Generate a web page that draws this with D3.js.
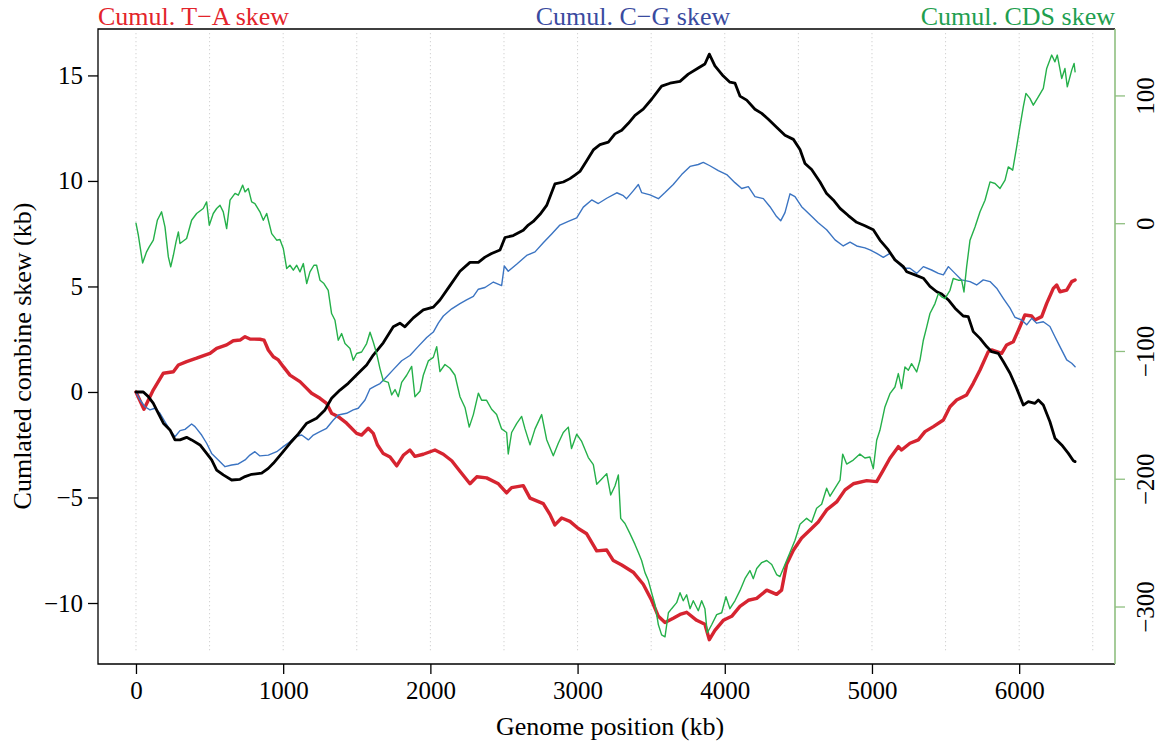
<!DOCTYPE html>
<html>
<head>
<meta charset="utf-8">
<script src="https://cdn.jsdelivr.net/npm/d3@7"></script>
<style>
  html, body { margin: 0; padding: 0; background: #ffffff; }
  svg { display: block; font-family: "Liberation Serif", "Times New Roman", serif; }
</style>
</head>
<body>
<svg id="chart" width="1161" height="742"></svg>
<script>
// Cumulative T−A skew (kb) along the genome (kb)
const taPos = [0,54,118,186,254,288,344,412,469,503,548,616,661,707,741,774,842,870,899,933,967,1001,1046,1114,1160,1193,1250,1295,1329,1374,1431,1499,1533,1578,1612,1640,1680,1726,1771,1816,1861,1895,1952,2031,2088,2145,2201,2269,2315,2382,2462,2518,2552,2631,2677,2767,2812,2846,2892,2948,3005,3062,3130,3198,3243,3300,3378,3446,3503,3549,3594,3650,3696,3741,3809,3865,3895,3933,3990,4047,4103,4160,4217,4285,4352,4386,4420,4466,4522,4579,4635,4692,4760,4817,4873,4964,5032,5077,5122,5179,5201,5258,5315,5360,5417,5485,5530,5575,5643,5688,5734,5790,5813,5881,5915,5960,6005,6039,6085,6107,6153,6187,6232,6255,6277,6323,6357,6380];
const taSkew = [0,-0.82,0.1,0.89,0.96,1.28,1.44,1.6,1.75,1.83,2.07,2.23,2.43,2.46,2.62,2.51,2.5,2.46,1.99,1.67,1.52,1.2,0.8,0.49,0.17,-0.06,-0.3,-0.54,-1.01,-1.17,-1.48,-1.96,-2.04,-1.72,-1.96,-2.5,-2.92,-3.08,-3.5,-3.0,-2.75,-3.05,-2.95,-2.75,-2.95,-3.26,-3.76,-4.35,-4.02,-4.07,-4.35,-4.78,-4.53,-4.44,-5.03,-5.29,-5.8,-6.3,-5.97,-6.13,-6.47,-6.72,-7.53,-7.49,-7.99,-8.2,-8.54,-9.11,-9.87,-10.63,-10.92,-10.72,-10.54,-10.44,-10.82,-11.01,-11.74,-11.3,-10.82,-10.63,-10.16,-9.87,-9.78,-9.39,-9.59,-9.39,-8.16,-7.5,-6.92,-6.54,-6.16,-5.59,-5.21,-4.64,-4.35,-4.2,-4.25,-3.7,-3.14,-2.59,-2.75,-2.43,-2.27,-1.88,-1.64,-1.33,-0.7,-0.38,-0.14,0.41,1.04,1.91,1.99,1.83,2.23,2.38,3.09,3.65,3.6,3.41,3.57,4.2,4.91,5.07,4.75,4.83,5.23,5.31];

// Cumulative C−G skew (kb)
const cgPos = [0,27,61,95,129,163,197,231,265,299,333,378,401,446,480,514,559,605,650,695,741,774,808,842,899,956,1001,1046,1080,1126,1171,1205,1250,1295,1341,1374,1431,1476,1510,1556,1590,1624,1658,1692,1748,1805,1861,1918,1975,2020,2054,2088,2145,2201,2246,2292,2326,2371,2428,2484,2502,2529,2586,2654,2711,2767,2824,2880,2937,2994,3039,3096,3141,3198,3266,3311,3333,3378,3413,3435,3492,3549,3594,3650,3707,3764,3820,3854,3899,3956,4013,4069,4115,4160,4205,4262,4307,4352,4380,4409,4443,4477,4522,4579,4635,4692,4749,4805,4851,4896,4952,4986,5032,5077,5122,5168,5213,5258,5304,5349,5405,5451,5485,5519,5564,5609,5666,5711,5756,5802,5847,5892,5938,5971,6017,6051,6085,6119,6164,6209,6243,6277,6323,6357,6380];
const cgSkew = [0,-0.38,-0.7,-0.85,-0.77,-1.01,-1.41,-1.8,-2.12,-1.83,-1.77,-1.52,-1.64,-2.04,-2.43,-2.91,-3.22,-3.54,-3.46,-3.41,-3.22,-2.99,-2.83,-3.03,-2.99,-2.83,-2.59,-2.36,-2.12,-2.04,-2.27,-2.04,-1.88,-1.72,-1.33,-1.09,-1.01,-0.85,-0.77,-0.38,0.15,0.28,0.4,0.64,1.06,1.48,1.73,2.16,2.58,2.84,3.26,3.6,3.94,4.19,4.36,4.53,4.87,4.95,5.21,5.04,5.97,5.72,6.05,6.47,6.64,7.07,7.49,7.91,8.08,8.25,8.76,9.1,8.93,9.18,9.44,9.3,9.16,9.53,9.83,9.45,9.34,9.16,9.45,9.83,10.3,10.69,10.78,10.88,10.72,10.49,10.3,9.92,9.64,9.73,9.26,9.16,8.78,8.31,8.11,8.5,9.39,9.26,8.78,8.4,8.02,7.69,7.21,6.92,7.1,6.92,6.83,6.73,6.57,6.38,6.57,6.18,5.86,5.86,5.62,5.94,5.78,5.62,5.55,5.94,5.62,5.31,5.23,5.07,5.31,5.23,4.92,4.44,3.97,3.54,3.41,3.18,3.49,3.26,3.33,3.1,2.62,2.15,1.52,1.36,1.2];

// Cumulative combined skew (kb)
const combPos = [0,50,84,118,152,186,231,265,299,344,378,435,480,514,548,593,650,707,741,786,854,899,933,990,1046,1103,1160,1227,1284,1329,1386,1442,1510,1567,1612,1680,1748,1793,1827,1884,1952,2020,2065,2133,2201,2269,2326,2371,2416,2473,2507,2563,2631,2665,2699,2745,2790,2846,2903,2948,2982,3016,3062,3107,3152,3209,3254,3300,3345,3390,3446,3503,3571,3628,3696,3752,3820,3865,3895,3933,3990,4035,4069,4103,4149,4205,4251,4296,4352,4409,4466,4511,4545,4590,4647,4692,4737,4783,4839,4896,4952,5009,5054,5111,5156,5213,5236,5292,5349,5394,5440,5474,5519,5564,5620,5654,5688,5734,5779,5813,5858,5892,5938,5983,6028,6062,6107,6130,6164,6209,6243,6289,6334,6368,6380];
const combSkew = [0,0,-0.22,-0.54,-1.01,-1.48,-1.8,-2.27,-2.27,-2.15,-2.27,-2.51,-2.91,-3.22,-3.7,-3.93,-4.17,-4.14,-4.01,-3.9,-3.85,-3.62,-3.38,-2.91,-2.43,-1.99,-1.48,-1.25,-0.85,-0.3,0.09,0.41,0.89,1.28,1.75,2.33,3.09,3.26,3.09,3.51,3.89,4.02,4.36,5.04,5.72,6.14,6.14,6.39,6.56,6.73,7.32,7.41,7.66,7.91,8.08,8.42,8.84,9.86,9.95,10.11,10.28,10.45,10.96,11.47,11.72,11.84,12.23,12.4,12.73,13.11,13.4,13.87,14.49,14.63,14.72,15.06,15.35,15.54,16.01,15.45,14.97,14.68,14.64,14.02,13.83,13.4,13.2,12.92,12.54,12.16,11.97,11.49,10.83,10.54,9.95,9.4,9.1,8.7,8.36,8.04,7.88,7.69,7.2,6.73,6.26,5.94,5.7,5.55,5.39,5.0,4.75,4.64,4.36,3.97,3.6,3.57,2.86,2.54,2.15,1.91,1.83,1.44,0.89,0.17,-0.62,-0.46,-0.54,-0.38,-0.62,-1.41,-2.19,-2.51,-2.91,-3.26,-3.3];

// Cumulative CDS skew (gene count, right axis)
const cdsPos = [0,16,45,72,90,118,145,174,197,220,236,254,272,288,299,344,378,412,457,480,498,525,548,571,593,616,639,673,695,725,741,763,786,808,842,865,888,922,956,978,1001,1024,1046,1069,1092,1114,1137,1160,1182,1209,1227,1250,1277,1306,1329,1352,1374,1397,1420,1454,1476,1499,1533,1567,1590,1612,1635,1658,1680,1714,1737,1760,1782,1805,1839,1873,1895,1929,1952,1986,2020,2043,2065,2099,2133,2167,2201,2235,2264,2292,2326,2348,2382,2416,2450,2484,2518,2529,2552,2586,2620,2643,2677,2711,2756,2790,2835,2869,2903,2937,2959,2994,3028,3073,3107,3130,3164,3198,3225,3254,3277,3293,3322,3356,3390,3413,3435,3458,3481,3503,3526,3549,3571,3594,3617,3639,3673,3696,3718,3741,3764,3786,3820,3843,3865,3881,3911,3945,3979,4008,4035,4069,4103,4137,4171,4194,4217,4251,4285,4319,4352,4375,4409,4443,4477,4511,4556,4590,4624,4658,4692,4715,4749,4783,4801,4828,4873,4918,4952,4986,5009,5032,5054,5088,5122,5156,5179,5201,5224,5247,5269,5304,5326,5349,5372,5394,5428,5451,5474,5496,5530,5552,5586,5609,5625,5643,5666,5700,5734,5768,5802,5836,5870,5904,5926,5956,5983,6005,6028,6046,6073,6096,6130,6164,6187,6221,6243,6259,6289,6311,6327,6357,6373,6380];
const cdsSkew = [0,-9.4,-31.1,-22.4,-18.5,-13.3,2.3,8.9,-2.9,-26.4,-34.2,-25.1,-14.6,-6.8,-15.9,-12,2.3,7.6,11.5,16.7,-1.6,7.6,11.5,14.1,8.9,-4.2,18,23.3,21.9,29.8,24.5,27.2,16.7,15.4,8.9,2.3,7.6,-8.1,-13.3,-12.8,-19.8,-35.5,-32.9,-36.8,-32.9,-38.1,-31.6,-47.2,-38.1,-32.9,-32.9,-44.6,-47.2,-52.5,-70.7,-76,-91.6,-86.4,-94.2,-98.1,-107.3,-102,-100.8,-94.2,-85.3,-93,-102,-114,-123.2,-124.6,-134.4,-130.2,-135.8,-124.6,-119,-112.1,-135.8,-131.6,-119,-107.8,-105,-96.6,-116.2,-110.6,-113.5,-119,-135.8,-144.2,-159.6,-149.8,-133,-138.6,-138.6,-145.6,-149.8,-161,-163.8,-180.6,-163.8,-156.8,-151.2,-161,-173.5,-161,-149.8,-169.4,-182,-172.2,-163.8,-159.6,-176.4,-165.2,-170.8,-183.4,-189,-204.3,-200.2,-196,-212.7,-205.7,-197,-231,-235,-243,-251.4,-257.7,-264,-273.5,-279.7,-289.2,-298.6,-314.3,-322.2,-323.7,-304.9,-301.7,-297,-289.2,-295.5,-290.8,-301.7,-295.5,-303.3,-295.5,-301.7,-320.6,-314.3,-306.4,-304.9,-292.3,-301.7,-295.5,-287.6,-278.2,-271.9,-278.2,-270.3,-265.6,-264,-267.1,-275,-276.6,-267.1,-257.7,-248.2,-235.7,-231,-234.1,-223.1,-220,-207.4,-213.7,-207.4,-201.1,-180.7,-188.5,-185.4,-180.7,-183.8,-183,-192.1,-169.9,-162.1,-143.8,-133.4,-128.2,-117.7,-129.4,-112.5,-115.1,-109.9,-116.4,-107.3,-91.6,-81.2,-70.7,-62.9,-55.1,-57.7,-59,-52.5,-43.3,-44.6,-44.6,-53.8,-34.2,-13.3,-2.9,8.9,18,32.3,31.1,27.2,33.7,44.1,41.5,59.7,75.4,91.1,101.6,97.7,92.4,98.9,105.5,121.1,131.6,126.3,131.6,113.3,121.1,106.7,119.8,125.1,118.5];

// Axis ticks and reference lines
const xTicks = [0, 1000, 2000, 3000, 4000, 5000, 6000];
const xGrid = [0, 500, 1000, 1500, 2000, 2500, 3000, 3500, 4000, 4500, 5000, 5500, 6000, 6500];
const leftTicks = [-10, -5, 0, 5, 10, 15];
const rightTicks = [-300, -200, -100, 0, 100];

const W = 1161, H = 742;
const plot = { left: 98, right: 1115, top: 29, bottom: 664 };
const FONT = '"Liberation Serif", "Times New Roman", serif';

const svg = d3.select("#chart");

const x = d3.scaleLinear().domain([-258, 6651]).range([plot.left, plot.right]);
const yL = d3.scaleLinear().domain([-12.89, 17.2]).range([plot.bottom, plot.top]);
const yR = d3.scaleLinear().domain([-345, 152]).range([plot.bottom, plot.top]);

// dotted vertical guides every 500 kb
svg.append("g")
  .selectAll("line")
  .data(xGrid)
  .join("line")
  .attr("x1", d => x(d)).attr("x2", d => x(d))
  .attr("y1", yL(17.0)).attr("y2", yL(-12.3))
  .attr("stroke", "#c4c4c4")
  .attr("stroke-width", 1)
  .attr("stroke-dasharray", "1,3");

const zip = (p, v) => p.map((d, i) => [d, v[i]]);

const lineL = d3.line().x(d => x(d[0])).y(d => yL(d[1]));
const lineR = d3.line().x(d => x(d[0])).y(d => yR(d[1]));

const series = [
  { pts: zip(taPos, taSkew), gen: lineL, color: "#d62430", width: 3.4 },
  { pts: zip(cgPos, cgSkew), gen: lineL, color: "#3b74c2", width: 1.4 },
  { pts: zip(combPos, combSkew), gen: lineL, color: "#000000", width: 2.8 },
  { pts: zip(cdsPos, cdsSkew), gen: lineR, color: "#25b04a", width: 1.4 }
];

svg.append("g")
  .selectAll("path")
  .data(series)
  .join("path")
  .attr("d", s => s.gen(s.pts))
  .attr("fill", "none")
  .attr("stroke", s => s.color)
  .attr("stroke-width", s => s.width)
  .attr("stroke-linejoin", "round")
  .attr("stroke-linecap", "round");

// frame: black on three sides, green on the right (secondary axis)
svg.append("path")
  .attr("d", `M${plot.right},${plot.top}H${plot.left}V${plot.bottom}H${plot.right}`)
  .attr("fill", "none").attr("stroke", "#000").attr("stroke-width", 1.3);
svg.append("line")
  .attr("x1", plot.right).attr("x2", plot.right)
  .attr("y1", plot.top).attr("y2", plot.bottom)
  .attr("stroke", "#8fbf80").attr("stroke-width", 1.6);

// left axis
const axL = svg.append("g")
  .attr("transform", `translate(${plot.left},0)`)
  .call(d3.axisLeft(yL).tickValues(leftTicks).tickSize(10).tickPadding(5));
axL.select(".domain").remove();
axL.selectAll(".tick line").attr("stroke", "#000").attr("stroke-width", 1.3);
axL.selectAll(".tick text").attr("font-size", 25).attr("font-family", FONT).attr("fill", "#000");

// bottom axis
const axB = svg.append("g")
  .attr("transform", `translate(0,${plot.bottom})`)
  .call(d3.axisBottom(x).tickValues(xTicks).tickFormat(d3.format("d")).tickSize(10).tickPadding(7));
axB.select(".domain").remove();
axB.selectAll(".tick line").attr("stroke", "#000").attr("stroke-width", 1.3);
axB.selectAll(".tick text").attr("font-size", 25).attr("font-family", FONT).attr("fill", "#000");

// right axis (CDS scale), labels parallel to the axis
const axR = svg.append("g")
  .attr("transform", `translate(${plot.right},0)`)
  .call(d3.axisRight(yR).tickValues(rightTicks).tickSize(10));
axR.select(".domain").remove();
axR.selectAll(".tick line").attr("stroke", "#8fbf80").attr("stroke-width", 1.3);
axR.selectAll(".tick text")
  .attr("x", null).attr("dy", null)
  .attr("text-anchor", "middle")
  .attr("transform", "translate(39,0) rotate(-90)")
  .attr("font-size", 25).attr("font-family", FONT).attr("fill", "#000");

// axis titles
svg.append("text")
  .attr("x", 610).attr("y", 735)
  .attr("text-anchor", "middle")
  .attr("font-size", 26).attr("font-family", FONT)
  .text("Genome position (kb)");

svg.append("text")
  .attr("transform", "translate(31,356) rotate(-90)")
  .attr("text-anchor", "middle")
  .attr("font-size", 26).attr("font-family", FONT)
  .text("Cumlated combine skew (kb)");

// series titles along the top edge
const heads = [
  { text: "Cumul. T\u2212A skew", x: plot.left, anchor: "start", color: "#e3242b" },
  { text: "Cumul. C\u2212G skew", x: 633, anchor: "middle", color: "#3a4b9f" },
  { text: "Cumul. CDS skew", x: plot.right, anchor: "end", color: "#1f9f50" }
];
svg.append("g")
  .selectAll("text")
  .data(heads)
  .join("text")
  .attr("x", d => d.x).attr("y", 25)
  .attr("text-anchor", d => d.anchor)
  .attr("fill", d => d.color)
  .attr("font-size", 26).attr("font-family", FONT)
  .text(d => d.text);
</script>
</body>
</html>
